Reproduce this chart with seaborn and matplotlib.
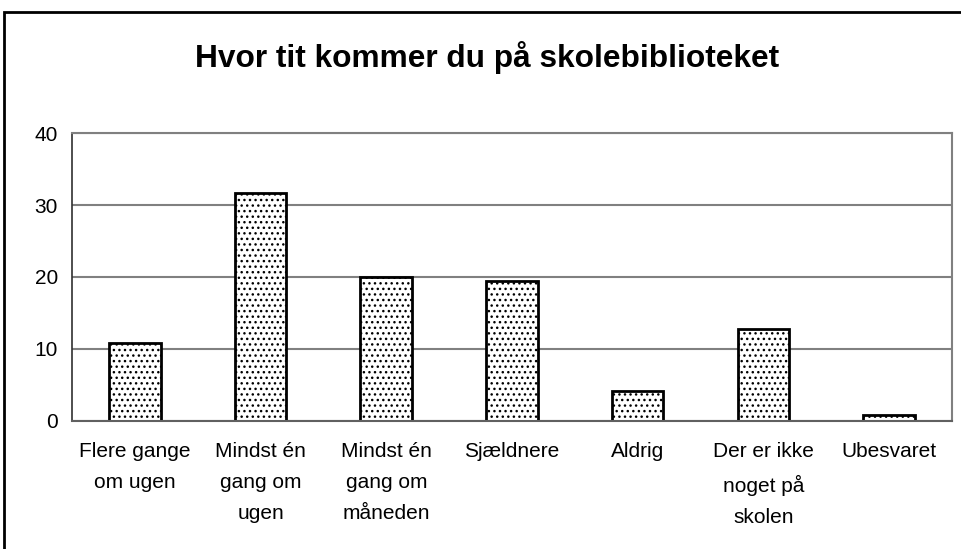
import matplotlib
matplotlib.use("Agg")
import matplotlib.pyplot as plt
import seaborn as sns
import pandas as pd
from matplotlib.patches import Rectangle

categories = ["Flere gange\nom ugen", "Mindst én\ngang om\nugen", "Mindst én\ngang om\nmåneden",
              "Sjældnere", "Aldrig", "Der er ikke\nnoget på\nskolen", "Ubesvaret"]
values = [10.9, 31.7, 20.0, 19.4, 4.1, 12.8, 0.8]
yticks = [0, 10, 20, 30, 40]

df = pd.DataFrame({"svar": categories, "antal": values})

sns.set_style("white")
plt.rcParams['font.family'] = ['Liberation Sans', 'DejaVu Sans']
plt.rcParams['hatch.linewidth'] = 1.0
plt.rcParams['text.color'] = 'black'
plt.rcParams['xtick.color'] = 'black'
plt.rcParams['ytick.color'] = 'black'

fig = plt.figure(figsize=(9.62, 5.49), dpi=100)
ax = fig.add_axes([0.0748, 0.2332, 0.9148, 0.5245])

sns.barplot(data=df, x="svar", y="antal", color="white", edgecolor="black",
            linewidth=2, width=0.41, ax=ax, saturation=1)
for p in ax.patches:
    p.set_hatch("...")

ax.set_ylim(0, 40)
ax.set_xlim(-0.5, len(categories) - 0.5)
ax.set_yticks(yticks)
ax.yaxis.grid(True, color="#808080", linewidth=1.5)
ax.set_axisbelow(True)

ax.set_xlabel("")
ax.set_ylabel("")
ax.set_xticks(range(len(categories)))
ax.set_xticklabels(categories, fontsize=15, linespacing=1.82, va="top")
ax.set_xticks([i - 0.5 for i in range(len(categories) + 1)], minor=True)
ax.tick_params(axis="x", which="major", length=0, pad=15)
ax.tick_params(axis="x", which="minor", length=5, color="#404040", width=1, direction="out")
ax.tick_params(axis="y", length=5, width=1, color="#404040", direction="out", labelsize=15, pad=5)

for side in ["top", "right"]:
    ax.spines[side].set_color("#808080")
    ax.spines[side].set_linewidth(1.5)
ax.spines["left"].set_color("#303030")
ax.spines["bottom"].set_color("#606060")
ax.spines["left"].set_linewidth(1.2)
ax.spines["bottom"].set_linewidth(1.5)

fig.text(0.506, 0.896, "Hvor tit kommer du på skolebiblioteket", ha="center", va="center",
         fontsize=22.8, fontweight="bold", color="black")

fig.patches.append(Rectangle((0.0042, -0.1), 1.1, 1.078, transform=fig.transFigure,
                             fill=False, edgecolor="black", linewidth=2, clip_on=False))

plt.savefig("out.png", dpi=100)
plt.close()
